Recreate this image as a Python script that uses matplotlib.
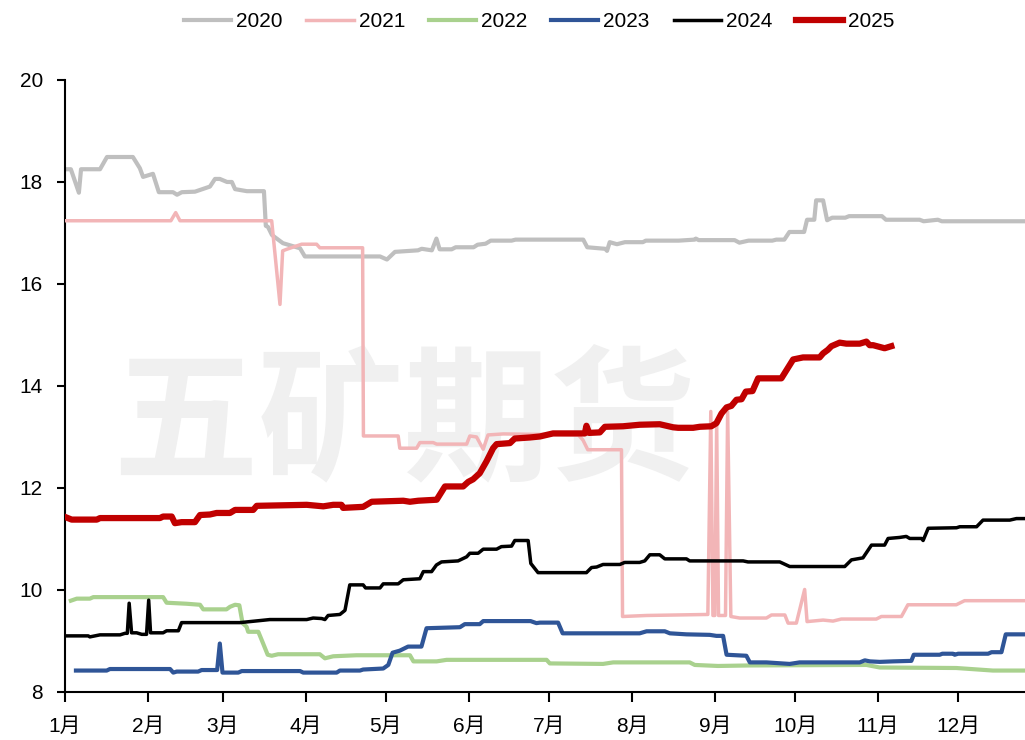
import matplotlib
matplotlib.use("Agg")
import matplotlib.pyplot as plt

plt.rcParams['font.family'] = ['Liberation Sans', 'Noto Sans CJK SC']

# x 为当年的第几天，y 为价格
d2020 = [2.1, 3.2, 6.2, 7.0, 14.1, 16.7, 26.4, 29.0, 30.2, 33.9, 36.1, 41.4, 42.9, 44.7, 49.6,
         55.2, 57.1, 58.9, 61.6, 63.4, 64.6, 69.0, 75.4, 76.1, 76.9, 78.4, 82.5, 88.9, 90.7,
         118.8, 121.4, 124.4, 133.0, 134.4, 138.2, 139.9, 141.1, 145.6, 147.1, 153.8, 155.3,
         158.3, 160.2, 168.0, 169.5, 194.8, 196.3, 203.0, 203.7, 204.7, 207.4, 210.4, 217.1,
         218.2, 230.5, 236.5, 236.9, 238.0, 251.4, 253.2, 256.6, 265.5, 267.0, 270.0, 271.9,
         277.4, 278.5, 281.2, 281.9, 284.5, 286.0, 287.9, 292.8, 294.2, 306.5, 308.0, 320.6,
         322.1, 327.4, 328.9, 359.9]
v2020 = [18.25, 18.25, 17.79, 18.25, 18.25, 18.49, 18.49, 18.27, 18.10, 18.16, 17.80, 17.80,
         17.75, 17.80, 17.81, 17.91, 18.06, 18.06, 18.00, 18.00, 17.86, 17.82, 17.82, 17.14,
         17.12, 16.96, 16.80, 16.70, 16.54, 16.54, 16.48, 16.63, 16.66, 16.69, 16.66, 16.89,
         16.68, 16.68, 16.72, 16.72, 16.77, 16.79, 16.85, 16.85, 16.87, 16.87, 16.72, 16.69,
         16.65, 16.82, 16.78, 16.82, 16.82, 16.85, 16.85, 16.87, 16.89, 16.86, 16.86, 16.81,
         16.85, 16.85, 16.87, 16.87, 17.02, 17.02, 17.26, 17.26, 17.64, 17.64, 17.25, 17.30,
         17.30, 17.33, 17.33, 17.26, 17.26, 17.23, 17.26, 17.23, 17.23]

d2021 = [1, 40.6, 42.4, 44.0, 78.3, 81.4, 82.4, 83.9, 89.5, 95.1, 96.3, 112.3, 112.6, 125.6,
         126.2, 132.5, 133.7, 138.7, 140.0, 151.2, 152.4, 154.9, 157.4, 159.2, 164.9, 193.0,
         194.7, 196.5, 209.1, 209.5, 218.5, 241.4, 242.5, 243.3, 244.0, 244.7, 245.4, 248.0,
         248.8, 250.0, 253.3, 263.3, 265.2, 270.2, 271.4, 274.5, 277.6, 278.5, 284.5, 288.2,
         291.3, 304.4, 306.3, 313.8, 316.2, 334.3, 337.4, 359.9]
v2021 = [17.24, 17.24, 17.40, 17.24, 17.24, 15.60, 16.65, 16.68, 16.78, 16.78, 16.71, 16.71,
         13.02, 13.02, 12.78, 12.78, 12.89, 12.89, 12.86, 12.86, 13.02, 13.00, 12.76, 13.04,
         13.06, 13.04, 12.94, 12.75, 12.75, 9.48, 9.50, 9.52, 13.50, 9.50, 9.50, 13.30, 9.50,
         9.50, 13.50, 9.48, 9.45, 9.45, 9.51, 9.51, 9.35, 9.35, 10.01, 9.38, 9.41, 9.39, 9.43,
         9.43, 9.48, 9.48, 9.71, 9.71, 9.79, 9.79]

d2022 = [3.2, 5.4, 10.3, 11.6, 37.7, 39.0, 46.5, 51.5, 52.7, 61.4, 62.7, 64.6, 66.2, 67.4,
         68.9, 69.5, 73.3, 75.1, 76.8, 78.3, 80.7, 96.3, 98.2, 101.3, 110.0, 130.0, 131.3,
         140.0, 143.7, 181.1, 182.3, 202.2, 206.0, 234.6, 236.5, 245.2, 256.9, 300.7, 305.7,
         334.3, 348.0, 359.9]
v2022 = [9.79, 9.83, 9.83, 9.86, 9.86, 9.75, 9.73, 9.71, 9.62, 9.62, 9.67, 9.71, 9.70, 9.35,
         9.28, 9.18, 9.18, 8.95, 8.73, 8.71, 8.74, 8.74, 8.66, 8.70, 8.72, 8.72, 8.60, 8.60,
         8.63, 8.63, 8.56, 8.55, 8.58, 8.58, 8.53, 8.51, 8.52, 8.53, 8.48, 8.47, 8.42, 8.42]

d2023 = [5.1, 16.6, 17.8, 40.3, 41.5, 42.8, 50.8, 52.1, 57.9, 58.9, 59.9, 65.8, 67.1, 88.9,
         90.1, 102.6, 103.8, 111.3, 112.5, 120.0, 121.9, 123.5, 126.2, 129.3, 134.3, 136.2,
         148.7, 150.5, 156.1, 157.4, 175.1, 177.3, 178.6, 185.4, 187.1, 215.9, 218.5, 225.3,
         227.2, 233.4, 242.1, 244.6, 247.1, 248.4, 255.8, 257.1, 263.3, 272.0, 275.7, 298.2,
         300.1, 302.0, 305.7, 310.6, 317.5, 318.4, 328.1, 329.1, 333.1, 333.7, 335.0, 346.2,
         347.5, 351.2, 352.8, 359.9]
v2023 = [8.42, 8.42, 8.45, 8.45, 8.38, 8.40, 8.40, 8.43, 8.43, 8.95, 8.38, 8.38, 8.41, 8.41,
         8.38, 8.38, 8.42, 8.42, 8.44, 8.46, 8.53, 8.77, 8.81, 8.89, 8.89, 9.25, 9.27, 9.33,
         9.33, 9.39, 9.39, 9.35, 9.36, 9.36, 9.15, 9.15, 9.19, 9.19, 9.15, 9.13, 9.12, 9.10,
         9.10, 8.73, 8.71, 8.58, 8.58, 8.55, 8.58, 8.58, 8.62, 8.60, 8.59, 8.60, 8.61, 8.73,
         8.73, 8.75, 8.75, 8.73, 8.75, 8.75, 8.78, 8.78, 9.13, 9.13]

d2024 = [1, 9.7, 10.3, 14.1, 21.6, 23.4, 24.3, 25.0, 25.9, 27.8, 29.7, 31.5, 32.3, 33.0,
         37.7, 39.0, 43.4, 44.6, 66.4, 73.9, 77.6, 91.4, 93.8, 97.0, 98.2, 99.4, 103.8, 105.7,
         107.5, 112.5, 113.4, 118.8, 120.0, 125.6, 127.5, 133.7, 135.0, 138.1, 139.9, 141.8,
         148.0, 151.2, 152.4, 155.5, 157.4, 162.4, 164.2, 168.0, 169.2, 174.2, 175.2, 177.9,
         196.0, 197.9, 199.8, 202.2, 208.5, 210.3, 215.9, 217.8, 219.7, 223.4, 225.3, 233.4,
         234.6, 254.6, 256.4, 268.3, 272.0, 292.6, 295.1, 299.4, 302.6, 307.5, 308.8, 313.1,
         315.6, 316.9, 321.3, 321.9, 323.8, 334.4, 335.6, 341.9, 344.3, 354.3, 356.8, 359.9]
v2024 = [9.10, 9.10, 9.08, 9.12, 9.12, 9.15, 9.15, 9.74, 9.16, 9.16, 9.13, 9.13, 9.80, 9.16,
         9.16, 9.20, 9.20, 9.36, 9.36, 9.40, 9.42, 9.42, 9.45, 9.44, 9.42, 9.50, 9.52, 9.60,
         10.10, 10.10, 10.04, 10.04, 10.12, 10.12, 10.20, 10.22, 10.36, 10.36, 10.49, 10.55,
         10.57, 10.65, 10.72, 10.72, 10.80, 10.80, 10.85, 10.86, 10.97, 10.97, 10.52, 10.34,
         10.34, 10.44, 10.45, 10.50, 10.50, 10.54, 10.54, 10.57, 10.69, 10.69, 10.61, 10.61,
         10.57, 10.57, 10.55, 10.55, 10.46, 10.46, 10.59, 10.63, 10.88, 10.88, 11.01, 11.03,
         11.05, 11.01, 11.01, 10.97, 11.21, 11.22, 11.24, 11.24, 11.37, 11.37, 11.40, 11.40]

d2025 = [1.6, 3.5, 12.9, 14.1, 36.5, 37.7, 40.9, 42.1, 44.6, 49.6, 51.5, 55.2, 57.7, 62.7,
         64.6, 71.4, 72.7, 91.4, 97.6, 101.3, 104.4, 105.0, 112.5, 115.7, 127.5, 130.0, 133.1,
         140.0, 143.1, 149.9, 151.8, 153.6, 156.1, 158.6, 161.1, 162.4, 167.4, 169.2, 174.8,
         178.6, 183.5, 195.4, 196.0, 197.0, 201.0, 202.9, 209.7, 215.9, 223.4, 225.9, 228.4,
         230.3, 235.9, 238.4, 242.7, 244.6, 246.5, 248.4, 250.2, 252.1, 254.0, 255.6, 258.1,
         260.2, 268.9, 273.3, 277.0, 283.2, 284.5, 286.3, 287.6, 290.7, 293.2, 298.2, 300.7,
         301.9, 303.2, 307.5, 310.0]
v2025 = [11.42, 11.38, 11.38, 11.41, 11.41, 11.44, 11.44, 11.31, 11.33, 11.33, 11.47, 11.48,
         11.51, 11.51, 11.57, 11.57, 11.65, 11.67, 11.64, 11.67, 11.67, 11.61, 11.63, 11.73,
         11.75, 11.73, 11.75, 11.77, 12.03, 12.03, 12.12, 12.17, 12.29, 12.52, 12.78, 12.86,
         12.88, 12.97, 12.99, 13.01, 13.07, 13.07, 13.22, 13.08, 13.09, 13.20, 13.21, 13.24,
         13.25, 13.22, 13.19, 13.18, 13.18, 13.20, 13.21, 13.27, 13.46, 13.58, 13.61, 13.73,
         13.74, 13.89, 13.90, 14.15, 14.15, 14.52, 14.56, 14.56, 14.64, 14.71, 14.78, 14.85,
         14.83, 14.83, 14.87, 14.80, 14.80, 14.74, 14.78]

# 每月第一天
month_days = [1, 32, 60, 91, 121, 152, 182, 213, 244, 274, 305, 335]
month_labels = ['1月', '2月', '3月', '4月', '5月', '6月', '7月', '8月', '9月', '10月', '11月', '12月']

fig = plt.figure(figsize=(10.25, 7.40), dpi=100)
ax = fig.add_axes([0.0634, 0.0649, 0.9366, 0.827])

# 水印
ax.text(0.353, 0.435, '五矿期货', transform=ax.transAxes, fontsize=105,
        family=['Noto Sans CJK SC'], fontweight='bold', color='#f0f0f0',
        ha='center', va='center', zorder=0)

ax.plot(d2020, v2020, color='#bfbfbf', lw=3.0, label='2020', zorder=2)
ax.plot(d2021, v2021, color='#f2b5b7', lw=2.5, label='2021', zorder=3)
ax.plot(d2022, v2022, color='#a9d18e', lw=3.0, label='2022', zorder=4)
ax.plot(d2023, v2023, color='#2f5597', lw=3.0, label='2023', zorder=5)
ax.plot(d2024, v2024, color='#000000', lw=2.5, label='2024', zorder=6)
ax.plot(d2025, v2025, color='#c00000', lw=4.5, label='2025', zorder=7)

ax.set_xlim(1, 360)
ax.set_ylim(8, 20)
ax.set_xticks(month_days)
ax.set_xticklabels(month_labels)
ax.set_yticks(range(8, 21, 2))
ax.tick_params(axis='both', direction='out', width=1.5, labelsize=15, colors='black')
ax.tick_params(axis='x', length=7, pad=11)
ax.tick_params(axis='y', length=6, pad=10)

for s in ['top', 'right']:
    ax.spines[s].set_visible(False)
for s in ['left', 'bottom']:
    ax.spines[s].set_linewidth(1.5)

fig.legend(loc='center', bbox_to_anchor=(0.526, 0.971), ncol=6, frameon=False, fontsize=15,
           handlelength=2.26, handletextpad=0.24, columnspacing=1.15)

fig.savefig('out.png', dpi=100)
